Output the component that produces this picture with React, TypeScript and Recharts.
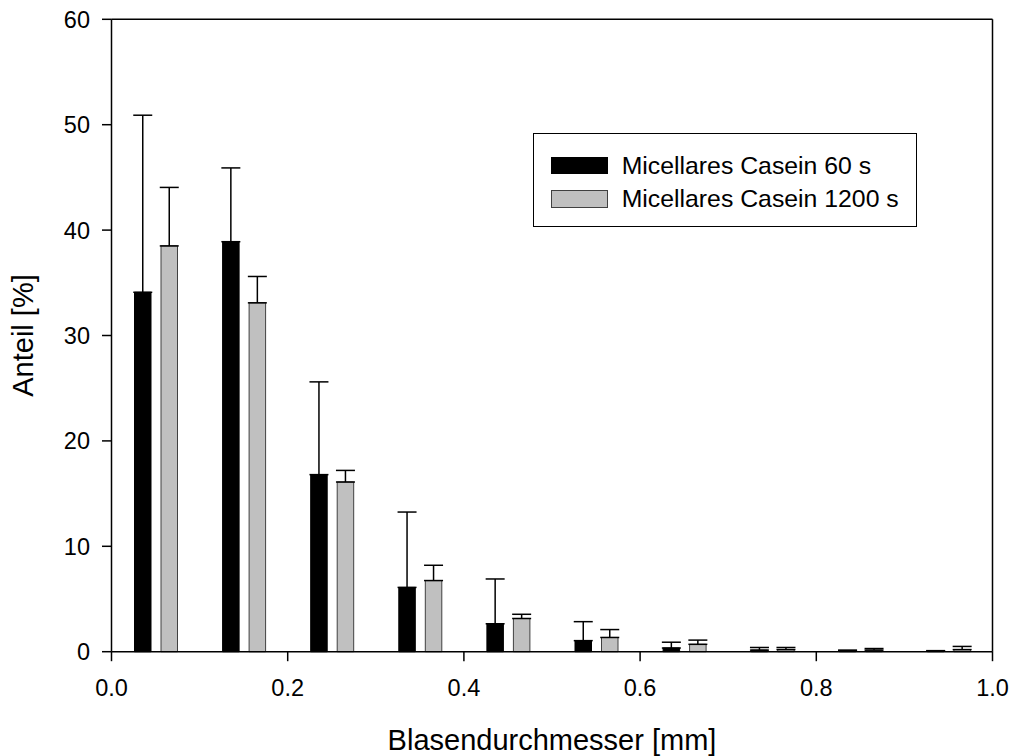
import React from "react";
import {
  BarChart,
  Bar,
  XAxis,
  YAxis,
  ErrorBar,
  ReferenceLine,
  Legend,
} from "recharts";

const xCenters = [0.05, 0.15, 0.25, 0.35, 0.45, 0.55, 0.65, 0.75, 0.85, 0.95];
const casein60 = [34.1, 38.9, 16.8, 6.1, 2.65, 1.05, 0.35, 0.15, 0.1, 0.05];
const casein60Err = [16.8, 7.0, 8.8, 7.15, 4.25, 1.8, 0.55, 0.25, 0.05, 0.05];
const casein1200 = [38.5, 33.1, 16.1, 6.75, 3.15, 1.35, 0.7, 0.2, 0.15, 0.2];
const casein1200Err = [5.55, 2.5, 1.1, 1.45, 0.4, 0.75, 0.4, 0.2, 0.15, 0.3];
const xTicks = [0, 0.2, 0.4, 0.6, 0.8, 1.0];
const yTicks = [0, 10, 20, 30, 40, 50, 60];
const seriesNames = ["Micellares Casein 60 s", "Micellares Casein 1200 s"];

const data = xCenters.map((x, i) => ({
  x,
  casein60: casein60[i],
  casein1200: casein1200[i],
  err60: [0, casein60Err[i]],
  err1200: [0, casein1200Err[i]],
}));

const FONT = '"Liberation Sans", Arial, sans-serif';

const XTick = (props: any) => {
  const { x, y, payload } = props;
  return (
    <text x={x} y={y + 35} textAnchor="middle" fontFamily={FONT} fontSize={23.5} fill="#000">
      {Number(payload.value).toFixed(1)}
    </text>
  );
};

const YTick = (props: any) => {
  const { x, y, payload } = props;
  return (
    <text x={x - 2} y={y + 8.4} textAnchor="end" fontFamily={FONT} fontSize={23.5} fill="#000">
      {payload.value}
    </text>
  );
};

const LegendContent = () => {
  const row = (color: string, border: string, label: string, top: number) => (
    <div style={{ position: "absolute", left: 17.5, top, display: "flex", alignItems: "center" }}>
      <div
        style={{
          width: 56.5,
          height: 17.5,
          background: color,
          border: `1px solid ${border}`,
          boxSizing: "border-box",
        }}
      />
      <span
        style={{
          marginLeft: 14,
          fontFamily: FONT,
          fontSize: 24.8,
          color: "#000",
          lineHeight: "17.5px",
          whiteSpace: "nowrap",
        }}
      >
        {label}
      </span>
    </div>
  );
  return (
    <div
      style={{
        position: "relative",
        width: 384,
        height: 94,
        border: "1.3px solid #000",
        boxSizing: "border-box",
        background: "#fff",
      }}
    >
      {row("#000", "#000", seriesNames[0], 22.5)}
      {row("#c0c0c0", "#404040", seriesNames[1], 56)}
    </div>
  );
};

export default function App() {
  return (
    <div
      style={{
        width: 1013,
        height: 756,
        padding: "8px 0 0 8px",
        boxSizing: "border-box",
        overflow: "hidden",
      }}
    >
      <style>{"html,body{margin:0;padding:0;overflow:hidden}"}</style>
      <BarChart
        width={1005}
        height={748}
        data={data}
        margin={{ top: 11.3, right: 20.5, left: 0, bottom: 0 }}
        barGap={10}
        barSize={16.5}
        style={{ overflow: "visible" }}
      >
        <XAxis
          dataKey="x"
          type="number"
          domain={[0, 1]}
          ticks={xTicks}
          allowDataOverflow
          height={104.3}
          tickSize={9.5}
          tickMargin={0}
          stroke="#000"
          strokeWidth={1.5}
          tick={<XTick />}
          label={{
            content: (p: any) => {
              const vb = p.viewBox;
              return (
                <text
                  x={vb.x + vb.width / 2}
                  y={vb.y + 98.3}
                  textAnchor="middle"
                  fontFamily={FONT}
                  fontSize={29}
                  fill="#000"
                >
                  Blasendurchmesser [mm]
                </text>
              );
            },
          }}
        />
        <YAxis
          type="number"
          domain={[0, 60]}
          ticks={yTicks}
          width={103.5}
          tickSize={9.5}
          tickMargin={10}
          stroke="#000"
          strokeWidth={1.5}
          tick={<YTick />}
          label={{
            content: (p: any) => {
              const vb = p.viewBox;
              const cy = vb.y + vb.height / 2;
              return (
                <text
                  x={25.3}
                  y={cy}
                  transform={`rotate(-90, 25.3, ${cy})`}
                  textAnchor="middle"
                  fontFamily={FONT}
                  fontSize={29}
                  fill="#000"
                >
                  Anteil [%]
                </text>
              );
            },
          }}
        />
        <ReferenceLine y={60} stroke="#000" strokeWidth={1.5} />
        <ReferenceLine x={1} stroke="#000" strokeWidth={1.5} />
        <Legend
          layout="vertical"
          align="center"
          verticalAlign="middle"
          content={<LegendContent />}
          wrapperStyle={{ position: "absolute", left: 524.7, top: 125.3, width: 384, height: 94 }}
        />
        <Bar
          dataKey="casein60"
          name={seriesNames[0]}
          fill="#000"
          stroke="#000"
          strokeWidth={1}
          isAnimationActive={false}
        >
          <ErrorBar
            dataKey="err60"
            direction="y"
            width={9.5}
            stroke="#000"
            strokeWidth={1.5}
            isAnimationActive={false}
          />
        </Bar>
        <Bar
          dataKey="casein1200"
          name={seriesNames[1]}
          fill="#c0c0c0"
          stroke="#404040"
          strokeWidth={1}
          isAnimationActive={false}
        >
          <ErrorBar
            dataKey="err1200"
            direction="y"
            width={9.5}
            stroke="#000"
            strokeWidth={1.5}
            isAnimationActive={false}
          />
        </Bar>
      </BarChart>
    </div>
  );
}
